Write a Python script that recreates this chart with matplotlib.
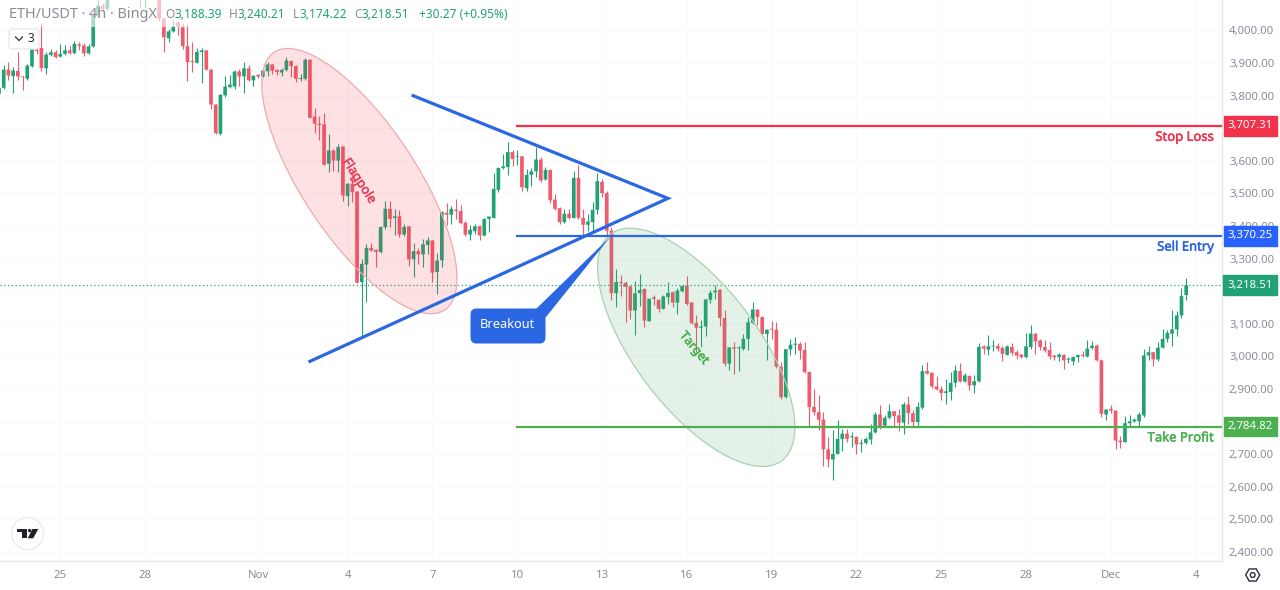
import numpy as np
import matplotlib
matplotlib.use('Agg')  # Non-interactive backend
import matplotlib.pyplot as plt
import matplotlib.patheffects as pe
from matplotlib.patches import Circle, Ellipse, FancyBboxPatch, Polygon, Rectangle, RegularPolygon
from matplotlib.transforms import ScaledTranslation

plt.rcParams['font.family'] = ['Noto Sans', 'DejaVu Sans']

# 4h candles (bars 24-33 run above the visible range)
opens = [
    3806, 3824, 3880, 3860, 3876, 3859, 3852, 3890, 3941, 3946,
    3884, 3925, 3933, 3920, 3928, 3939, 3931, 3957, 3954, 3930,
    3951, 4046, 4075, 4067, 4105, 4130, 4118, 4140, 4150, 4135,
    4120, 4105, 4125, 4135, 4120, 4036, 3976, 3997, 4025, 4010,
    3952, 3906, 3901, 3934, 3939, 3880, 3773, 3683, 3801, 3826,
    3828, 3874, 3859, 3884, 3847, 3864, 3859, 3875, 3896, 3879,
    3871, 3879, 3906, 3891, 3851, 3852, 3910, 3736, 3714, 3712,
    3591, 3632, 3601, 3644, 3492, 3530, 3506, 3228, 3282, 3333,
    3327, 3320, 3397, 3453, 3425, 3430, 3374, 3399, 3298, 3323,
    3313, 3342, 3356, 3259, 3295, 3441, 3435, 3450, 3446, 3410,
    3374, 3384, 3400, 3371, 3422, 3425, 3511, 3578, 3581, 3627,
    3612, 3614, 3516, 3557, 3568, 3604, 3543, 3572, 3481, 3455,
    3412, 3438, 3425, 3548, 3425, 3404, 3412, 3450, 3535, 3501,
    3386, 3194, 3228, 3226, 3215, 3141, 3194, 3207, 3108, 3182,
    3174, 3146, 3182, 3197, 3165, 3200, 3218, 3166, 3103, 3088,
    3092, 3174, 3197, 3205, 3118, 2978, 3028, 3025, 3023, 3054,
    3103, 3144, 3121, 3069, 3085, 3082, 2969, 2875, 3022, 3036,
    3039, 3020, 2952, 2845, 2829, 2806, 2715, 2684, 2701, 2747,
    2763, 2752, 2753, 2732, 2735, 2745, 2767, 2822, 2788, 2812,
    2832, 2819, 2797, 2853, 2826, 2799, 2843, 2955, 2950, 2908,
    2899, 2888, 2891, 2919, 2955, 2923, 2940, 2911, 2924, 3031,
    3021, 3031, 3032, 3026, 3005, 3029, 3013, 3006, 2998, 3029,
    3070, 3049, 3029, 3020, 3003, 2998, 3005, 2990, 2985, 2998,
    3004, 3000, 3026, 3033, 2988, 2822, 2839, 2834, 2742, 2737,
    2795, 2801, 2801, 2819, 3003, 3013, 2991, 3027, 3054, 3070,
    3083, 3126, 3188.39,
]
closes = [
    3824, 3880, 3862, 3877, 3859, 3857, 3892, 3942, 3937, 3885,
    3926, 3933, 3918, 3928, 3939, 3930, 3959, 3953, 3930, 3951,
    4046, 4077, 4066, 4105, 4130, 4118, 4140, 4150, 4135, 4120,
    4105, 4125, 4135, 4120, 4036, 3979, 3997, 4012, 4012, 3952,
    3903, 3903, 3934, 3939, 3880, 3773, 3685, 3803, 3828, 3834,
    3874, 3859, 3884, 3847, 3861, 3859, 3877, 3896, 3877, 3873,
    3879, 3908, 3891, 3852, 3854, 3910, 3732, 3714, 3710, 3588,
    3632, 3601, 3642, 3494, 3530, 3504, 3226, 3284, 3333, 3325,
    3321, 3397, 3453, 3422, 3430, 3374, 3397, 3298, 3323, 3313,
    3344, 3356, 3257, 3294, 3443, 3435, 3453, 3446, 3409, 3374,
    3389, 3399, 3371, 3422, 3429, 3514, 3578, 3583, 3627, 3606,
    3614, 3519, 3557, 3568, 3604, 3540, 3572, 3479, 3453, 3412,
    3438, 3425, 3548, 3425, 3404, 3414, 3450, 3538, 3501, 3386,
    3194, 3228, 3225, 3213, 3141, 3194, 3204, 3110, 3177, 3177,
    3146, 3184, 3195, 3165, 3202, 3216, 3161, 3102, 3088, 3092,
    3175, 3195, 3202, 3118, 2978, 3028, 3024, 3028, 3054, 3105,
    3144, 3121, 3069, 3082, 3082, 2969, 2875, 3022, 3036, 3039,
    3018, 2952, 2845, 2829, 2806, 2715, 2684, 2701, 2747, 2763,
    2747, 2755, 2730, 2735, 2747, 2767, 2822, 2786, 2812, 2832,
    2817, 2797, 2853, 2826, 2799, 2845, 2955, 2947, 2908, 2899,
    2888, 2893, 2919, 2957, 2923, 2942, 2911, 2924, 3029, 3024,
    3031, 3033, 3024, 3008, 3031, 3011, 3003, 2998, 3031, 3070,
    3046, 3029, 3018, 3000, 2998, 3006, 2988, 2993, 2998, 3004,
    3001, 3024, 3033, 2988, 2824, 2837, 2834, 2742, 2737, 2795,
    2801, 2806, 2822, 3003, 3013, 2991, 3027, 3054, 3072, 3083,
    3126, 3185, 3218.51,
]
highs = [
    3836, 3893, 3903, 3888, 3934, 3860, 3896, 3944, 3964, 4022,
    3933, 3944, 3939, 3957, 3954, 3951, 3967, 3964, 3961, 3957,
    4055, 4095, 4085, 4125, 4140, 4145, 4150, 4165, 4160, 4140,
    4125, 4130, 4145, 4140, 4130, 4040, 4005, 4031, 4030, 4022,
    4020, 3964, 3946, 3946, 3941, 3881, 3775, 3806, 3859, 3862,
    3880, 3882, 3903, 3893, 3864, 3867, 3879, 3903, 3898, 3882,
    3884, 3918, 3910, 3893, 3865, 3916, 3912, 3763, 3739, 3747,
    3681, 3637, 3652, 3647, 3533, 3560, 3508, 3300, 3346, 3348,
    3329, 3399, 3478, 3478, 3451, 3450, 3407, 3401, 3349, 3333,
    3361, 3366, 3358, 3317, 3445, 3470, 3463, 3484, 3466, 3417,
    3404, 3407, 3402, 3425, 3432, 3562, 3581, 3622, 3657, 3632,
    3632, 3616, 3576, 3578, 3644, 3611, 3581, 3574, 3499, 3457,
    3453, 3453, 3568, 3586, 3453, 3438, 3473, 3562, 3545, 3507,
    3396, 3269, 3250, 3230, 3217, 3230, 3254, 3209, 3180, 3189,
    3177, 3187, 3228, 3200, 3210, 3218, 3248, 3168, 3126, 3113,
    3177, 3205, 3220, 3207, 3141, 3030, 3044, 3031, 3069, 3120,
    3167, 3146, 3123, 3085, 3108, 3105, 2983, 3023, 3054, 3059,
    3044, 3044, 2954, 2901, 2883, 2830, 2753, 2775, 2804, 2778,
    2778, 2768, 2755, 2747, 2753, 2793, 2829, 2850, 2819, 2855,
    2834, 2840, 2860, 2880, 2837, 2860, 2974, 2983, 2952, 2939,
    2908, 2931, 2952, 2974, 2980, 2949, 2943, 2944, 3041, 3034,
    3067, 3049, 3041, 3031, 3034, 3041, 3020, 3008, 3073, 3097,
    3072, 3054, 3049, 3044, 3005, 3010, 3008, 2998, 3001, 3008,
    3018, 3049, 3046, 3039, 2993, 2839, 2850, 2836, 2755, 2817,
    2819, 2811, 2831, 3024, 3031, 3015, 3044, 3083, 3080, 3143,
    3139, 3211, 3240.21,
]
lows = [
    3800, 3821, 3847, 3808, 3847, 3818, 3847, 3889, 3928, 3875,
    3867, 3923, 3915, 3920, 3926, 3928, 3928, 3939, 3923, 3928,
    3949, 4040, 4060, 4062, 4100, 4110, 4112, 4130, 4125, 4110,
    4072, 4070, 4115, 4110, 4030, 3933, 3966, 3995, 3987, 3944,
    3844, 3874, 3901, 3838, 3879, 3760, 3681, 3680, 3795, 3824,
    3821, 3831, 3808, 3844, 3831, 3855, 3857, 3859, 3865, 3862,
    3860, 3875, 3857, 3842, 3844, 3847, 3731, 3685, 3665, 3586,
    3565, 3570, 3565, 3478, 3463, 3475, 3224, 3064, 3167, 3323,
    3274, 3318, 3390, 3397, 3374, 3366, 3371, 3279, 3243, 3284,
    3274, 3315, 3228, 3192, 3274, 3402, 3407, 3422, 3405, 3368,
    3358, 3376, 3358, 3368, 3381, 3425, 3504, 3576, 3557, 3583,
    3586, 3507, 3507, 3524, 3550, 3535, 3540, 3470, 3448, 3405,
    3409, 3422, 3425, 3422, 3371, 3386, 3381, 3438, 3489, 3366,
    3174, 3153, 3184, 3107, 3115, 3067, 3156, 3090, 3108, 3159,
    3136, 3146, 3161, 3151, 3131, 3198, 3159, 3100, 3013, 3028,
    3064, 3165, 3177, 3092, 2972, 2957, 2945, 2955, 3020, 3020,
    3100, 3095, 3066, 2990, 3054, 2965, 2870, 2873, 3003, 3006,
    2993, 2950, 2788, 2819, 2773, 2663, 2660, 2622, 2701, 2709,
    2737, 2722, 2701, 2706, 2732, 2730, 2765, 2776, 2785, 2809,
    2785, 2770, 2763, 2793, 2783, 2783, 2839, 2945, 2904, 2896,
    2865, 2855, 2865, 2906, 2921, 2921, 2898, 2888, 2921, 3006,
    3005, 3016, 3016, 2985, 3003, 3003, 2993, 2996, 2996, 3024,
    3008, 3020, 3013, 2993, 2988, 2986, 2962, 2980, 2975, 2983,
    2998, 2998, 3024, 2987, 2814, 2806, 2827, 2717, 2719, 2737,
    2783, 2799, 2786, 2814, 2990, 2972, 2985, 3026, 3044, 3031,
    3064, 3118, 3174.22,
]

price_ticks = [4000, 3900, 3800, 3700, 3600, 3500, 3400, 3300, 3200, 3100,
               3000, 2900, 2800, 2700, 2600, 2500, 2400]
date_ticks = [13, 31, 55, 74, 92, 110, 128, 146, 164, 182, 200, 218, 236, 254]
date_labels = ['25', '28', 'Nov', '4', '7', '10', '13', '16', '19', '22', '25', '28', 'Dec', '4']

stop_loss = 3707.31
sell_entry = 3370.25
take_profit = 2784.82
last_price = 3218.51

# triangle drawn as (bar, price): upper start, apex, lower start
triangle_bars = [87.9, 142.0, 66.0]
triangle_prices = [3800, 3485, 2985]

UP = '#22a274'
DOWN = '#ef5a6c'
RED = '#f0324b'
BLUE = '#2b66e3'
GREEN = '#4caf50'
GREY = '#8a8d96'

W, H = 1280, 590
fig = plt.figure(figsize=(W / 100, H / 100), dpi=100, facecolor='white')
ax = fig.add_axes([0, 29 / H, 1222 / W, 561 / H])
ax.set_xlim(0.212, 259.6)
ax.set_ylim(2372.5, 4093.5)

# candles
o, c, h, l = map(np.array, (opens, closes, highs, lows))
x = np.arange(len(o))
colors = np.where(c >= o, UP, DOWN)
ax.vlines(x, l, h, colors=colors, linewidth=0.8, zorder=2)
bars = ax.bar(x, np.maximum(np.abs(c - o), 2), bottom=np.minimum(o, c), width=0.78, color=colors, zorder=2.1)
for bar in bars:
    bar.set_snap(False)

ax.axhline(last_price, color=UP, linestyle=(0, (1, 2)), linewidth=0.9, zorder=2.2)


def add_ellipse(bar, price, length, thick, angle, face, edge):
    # sized in pixels, so the rotation is not sheared by the price scale
    trans = fig.dpi_scale_trans + ScaledTranslation(bar, price, ax.transData)
    ax.add_patch(Ellipse((0, 0), length / 50, thick / 50, angle=angle, transform=trans,
                         facecolor=face, edgecolor='none', zorder=2.4))
    ax.add_patch(Ellipse((0, 0), length / 50, thick / 50, angle=angle, transform=trans,
                         facecolor='none', edgecolor=edge, linewidth=0.9, zorder=2.4))


add_ellipse(76.5, 3538, 154.5, 57, -56.5, (0.95, 0.21, 0.27, 0.15), '#eeaab0')
add_ellipse(148, 3028, 142, 61.4, -52.9, (0.30, 0.65, 0.40, 0.15), '#aad0b2')

ax.plot(triangle_bars, triangle_prices, color=BLUE, linewidth=2.3, solid_joinstyle='miter', zorder=3)

for price, color in ((stop_loss, RED), (sell_entry, BLUE), (take_profit, GREEN)):
    ax.plot([110, 259.6], [price, price], color=color, linewidth=1.6, zorder=3)

# ticks and grid; the 3,700 label sits fully behind the stop loss tag
ax.yaxis.tick_right()
ax.set_yticks(price_ticks, ['' if p == 3700 else f'{p:,.2f}' for p in price_ticks])
ax.set_xticks(date_ticks, date_labels)
ax.tick_params(axis='both', length=0, labelcolor=GREY, labelsize=8.2)
ax.tick_params(axis='y', pad=5)
ax.tick_params(axis='x', pad=6.7)
ax.grid(True, color='#fafafb', linewidth=0.8)
ax.set_axisbelow(True)
for side in ('top', 'left'):
    ax.spines[side].set_visible(False)
for side in ('right', 'bottom'):
    ax.spines[side].set_color('#e4e5e8')
    ax.spines[side].set_linewidth(0.9)


def heavier(color):
    # the original labels sit between regular and bold
    return [pe.withStroke(linewidth=0.35, foreground=color)]


# labels under the levels and price tags on the axis
for name, price, color in (('Stop Loss', stop_loss, RED), ('Sell Entry', sell_entry, BLUE),
                           ('Take Profit', take_profit, GREEN)):
    ax.annotate(name, xy=(257.9, price), xytext=(0, -8.2), textcoords='offset points',
                ha='right', va='center', color=color, fontsize=9.4, zorder=4,
                path_effects=heavier(color))

yaxis_trans = ax.get_yaxis_transform()
for price, color in ((stop_loss, RED), (sell_entry, '#2962ff'), (last_price, UP), (take_profit, GREEN)):
    ax.annotate(f'{price:,.2f}', xy=(1, price), xycoords=yaxis_trans, xytext=(20.5, 0),
                textcoords='offset points', ha='center', va='center', color='white', fontsize=8.2,
                bbox=dict(boxstyle='square,pad=0.38', facecolor=color, edgecolor=color),
                annotation_clip=False, zorder=6)

ax.text(76.5, 3538, 'Flagpole', rotation=-57, rotation_mode='anchor', ha='center', va='center',
        color='#e8405a', fontsize=9.2, zorder=4, path_effects=heavier('#e8405a'))
ax.text(147.6, 3026, 'Target', rotation=-50, rotation_mode='anchor', ha='center', va='center',
        color=GREEN, fontsize=9, zorder=4, path_effects=heavier(GREEN))

# screen furniture, laid out in pixels on a see-through layer
top = fig.add_axes([0, 0, 1, 1], facecolor='none')
top.set_xlim(0, W)
top.set_ylim(H, 0)
top.axis('off')

# breakout callout
top.add_patch(Polygon([(611, 236), (536, 309), (546, 317)], facecolor=BLUE, edgecolor='none'))
top.add_patch(FancyBboxPatch((474, 312), 68, 28, boxstyle='round,pad=3.5,rounding_size=6',
                             facecolor=BLUE, edgecolor='none'))
top.text(507.5, 325, 'Breakout', color='white', fontsize=9.2, ha='center', va='center')

# legend strip
top.add_patch(Rectangle((0, 0), 510, 27, facecolor='white', edgecolor='none', alpha=0.62))
top.text(9, 15, 'ETH/USDT · 4h · BingX', color=GREY, fontsize=10.4, ha='left', va='center')
for px, label, value in ((165, 'O', '3,188.39'), (229, 'H', '3,240.21'), (293, 'L', '3,174.22'),
                         (354, 'C', '3,218.51')):
    text = top.text(px, 15, label, color=GREY, fontsize=8.6, ha='left', va='center')
    top.annotate(value, xy=(1, 0.5), xycoords=text, va='center', color=UP, fontsize=8.6)
top.text(419, 15, '+30.27 (+0.95%)', color=UP, fontsize=8.6, ha='left', va='center')

# collapse button
top.add_patch(FancyBboxPatch((11, 31), 26, 16, boxstyle='round,pad=2,rounding_size=3',
                             facecolor='white', edgecolor='#e4e5e8', linewidth=0.8))
top.plot([15.5, 19, 22.5], [37, 40.5, 37], color='#2a2e39', linewidth=0.9)
top.text(31, 39, '3', color='#2a2e39', fontsize=8.6, ha='center', va='center')

# logo
top.add_patch(Circle((27.5, 533.5), 16, facecolor='white', edgecolor='#e9e9ec', linewidth=0.9))
top.add_patch(Polygon([(17.3, 529), (27.3, 529), (27.3, 538.3), (21.7, 538.3), (21.7, 532.3), (17.3, 532.3)],
                      facecolor='#1f2229', edgecolor='none'))
top.add_patch(Circle((29.6, 530.6), 1.7, facecolor='#1f2229', edgecolor='none'))
top.add_patch(Polygon([(32.3, 529), (38.3, 529), (33.2, 538.3), (27.8, 538.3)],
                      facecolor='#1f2229', edgecolor='none'))

# settings icon
top.add_patch(RegularPolygon((1252.7, 575), 6, radius=7, orientation=np.pi / 6,
                             facecolor='none', edgecolor='#2a2e39', linewidth=1))
top.add_patch(Circle((1252.7, 575), 2.4, facecolor='none', edgecolor='#2a2e39', linewidth=1))

fig.savefig('out.png', dpi=100)
